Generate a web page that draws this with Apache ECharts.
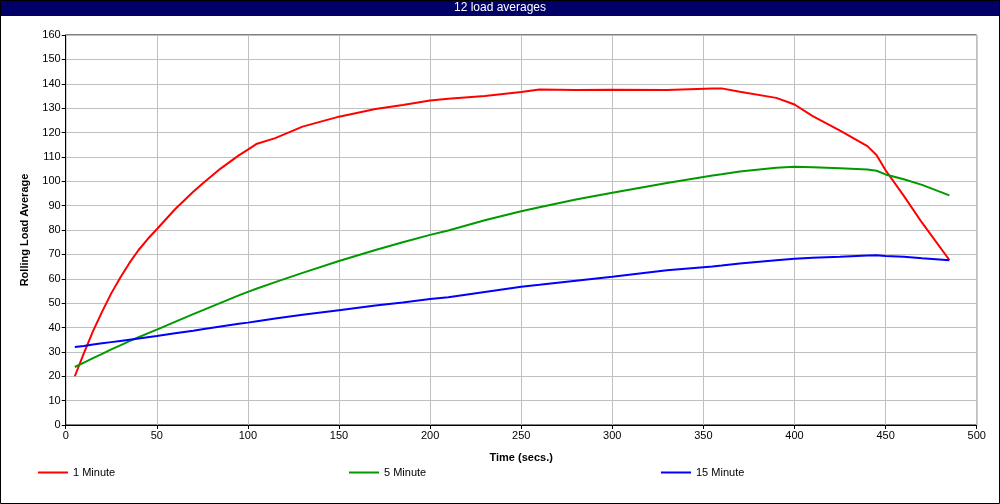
<!DOCTYPE html>
<html><head><meta charset="utf-8">
<script src="https://cdn.jsdelivr.net/npm/echarts@6/dist/echarts.min.js"></script>
<style>html,body{margin:0;padding:0;background:#fff}#c{width:1000px;height:504px}</style>
</head><body><div id="c"></div>
<script>
const titleText = '12 load averages';
const times = [5,10,15,20,25,30,35,40,45,50,60,70,75,85,95,100,105,115,130,150,170,185,200,210,230,250,260,280,300,330,355,360,370,390,400,410,425,440,445,450,460,470,485];
const oneMinute = [20,29.5,38.5,46.5,54,60.5,66.5,71.8,76.3,80.3,88.5,95.7,99,105.2,110.6,113,115.4,117.7,122.4,126.5,129.6,131.3,133.1,133.8,135,136.6,137.6,137.4,137.5,137.4,138.1,138.1,136.7,134.2,131.5,126.7,120.8,114.4,110.8,104.5,94,83,67.7];
const fiveMinute = [23.8,25.6,27.4,29.2,31,32.7,34.4,36,37.6,39.1,42.3,45.5,47,50.1,53.2,54.6,56,58.6,62.4,67.3,71.8,75,78,79.8,84,87.7,89.3,92.5,95.3,99.3,102.4,102.9,104,105.5,105.9,105.7,105.3,104.8,104.3,102.8,100.8,98.5,94.2];
const fifteenMinute = [32,32.4,33,33.5,34,34.5,35,35.5,36,36.5,37.6,38.7,39.3,40.4,41.5,42,42.6,43.7,45.2,47.1,49,50.3,51.7,52.4,54.6,56.7,57.5,59.2,60.8,63.5,65,65.4,66.3,67.6,68.2,68.6,69,69.5,69.6,69.3,69,68.4,67.6];
const seriesNames = ['1 Minute','5 Minute','15 Minute'];
const seriesColors = ['#ff0000','#009900','#0000ff'];
const seriesData = [oneMinute, fiveMinute, fifteenMinute];

const chart = echarts.init(document.getElementById('c'), null, {renderer:'canvas'});
const font = 'Liberation Sans, Arial, sans-serif';
const legendLefts = [38, 349, 661];
chart.setOption({
  animation:false,
  backgroundColor:'#fff',
  graphic:[
    {type:'rect', shape:{x:0,y:0,width:1000,height:16}, style:{fill:'#000066'}, z:10},
    {type:'text', x:500, y:8, style:{text:titleText, fill:'#fff', font:'12px "Liberation Sans Narrow", "Liberation Sans", sans-serif', textAlign:'center', textVerticalAlign:'middle'}, z:11},
    {type:'rect', shape:{x:0.5,y:0.5,width:999,height:503}, style:{fill:null, stroke:'#000', lineWidth:1}, z:12}
  ],
  grid:{left:65.7, right:23.3, top:35, bottom:79, show:true, borderColor:'#000', borderWidth:1},
  xAxis:{type:'value', min:0, max:500, interval:50,
    name:'Time (secs.)', nameLocation:'middle', nameGap:27,
    nameTextStyle:{fontFamily:font, fontWeight:'bold', fontSize:11, color:'#000'},
    axisLine:{onZero:false, lineStyle:{color:'#000', width:1}},
    axisTick:{show:true, length:4, lineStyle:{color:'#000'}},
    axisLabel:{fontFamily:font, fontSize:11, color:'#000', margin:5},
    splitLine:{show:true, lineStyle:{color:'#c0c0c0', width:1}}},
  yAxis:{type:'value', min:0, max:160, interval:10,
    name:'Rolling Load Average', nameLocation:'middle', nameGap:35,
    nameTextStyle:{fontFamily:font, fontWeight:'bold', fontSize:11, color:'#000'},
    axisLine:{show:true, lineStyle:{color:'#000', width:1}},
    axisTick:{show:true, length:4, lineStyle:{color:'#000'}},
    axisLabel:{fontFamily:font, fontSize:11, color:'#000', margin:5},
    splitLine:{show:true, lineStyle:{color:'#c0c0c0', width:1}}},
  legend: seriesNames.map((n,i)=>({data:[{name:n, icon:'rect'}], left:legendLefts[i], top:467, padding:0, itemWidth:30, itemHeight:2, itemGap:4,
    textStyle:{fontFamily:font, fontSize:11, color:'#000'}})),
  series: seriesNames.map((n,i)=>({name:n, type:'line', data: times.map((t,j)=>[t, seriesData[i][j]]),
    showSymbol:false, symbol:'none', color:seriesColors[i], lineStyle:{width:2, color:seriesColors[i]}}))
});
</script></body></html>
